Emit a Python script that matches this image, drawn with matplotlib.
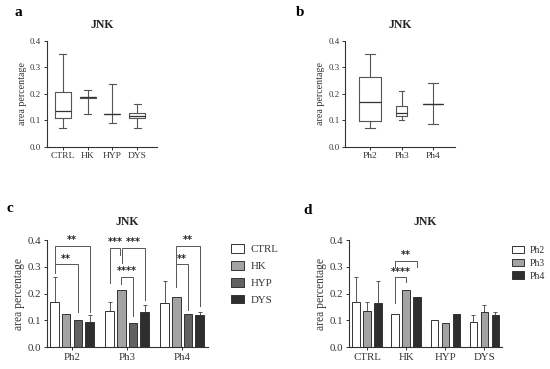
import matplotlib
matplotlib.use("Agg")
import matplotlib.pyplot as plt
import numpy as np

plt.rcParams['font.family'] = ['Liberation Serif', 'DejaVu Serif']

# ---------------- data ----------------
groups = ["CTRL", "HK", "HYP", "DYS"]
phases = ["Ph2", "Ph3", "Ph4"]

# panel a: box stats per group (whislo, q1, med, q3, whishi)
a_whislo = [0.070, 0.124, 0.088, 0.070]
a_q1     = [0.107, 0.185, 0.122, 0.107]
a_med    = [0.135, 0.187, 0.123, 0.117]
a_q3     = [0.208, 0.189, 0.124, 0.126]
a_whishi = [0.348, 0.214, 0.235, 0.160]

# panel b: box stats per phase
b_whislo = [0.070, 0.099, 0.087]
b_q1     = [0.098, 0.116, 0.161]
b_med    = [0.169, 0.126, 0.162]
b_q3     = [0.263, 0.152, 0.163]
b_whishi = [0.348, 0.209, 0.239]

# panels c/d: mean values, rows = groups, cols = phases
mean_ctrl = [0.168, 0.136, 0.164]
mean_hk   = [0.124, 0.214, 0.188]
mean_hyp  = [0.100, 0.090, 0.123]
mean_dys  = [0.094, 0.130, 0.120]
err_ctrl = [0.094, 0.034, 0.082]
err_hk   = [0.0, 0.0, 0.0]
err_hyp  = [0.0, 0.0, 0.0]
err_dys  = [0.025, 0.026, 0.012]

yticks = [0.0, 0.1, 0.2, 0.3, 0.4]

means = np.array([mean_ctrl, mean_hk, mean_hyp, mean_dys])
errs = np.array([err_ctrl, err_hk, err_hyp, err_dys])

group_colors = ["white", "#a3a3a3", "#626262", "#2e2e2e"]
phase_colors = ["white", "#a3a3a3", "#2e2e2e"]
edge = "#333333"
txt = "#333333"

W, H = 550, 369
fig = plt.figure(figsize=(W / 100, H / 100), dpi=100)


def ax_at(x0, x1, ytop, ybot):
    return fig.add_axes([x0 / W, 1 - ybot / H, (x1 - x0) / W, (ybot - ytop) / H])


def style(ax, fs_tick, fs_lab):
    for s in ["top", "right"]:
        ax.spines[s].set_visible(False)
    for s in ["left", "bottom"]:
        ax.spines[s].set_color(edge)
        ax.spines[s].set_linewidth(0.8)
    ax.set_ylim(0, 0.4)
    ax.set_yticks(yticks)
    ax.set_yticklabels([f"{v:.1f}" for v in yticks])
    ax.tick_params(axis="both", colors=edge, labelcolor=txt, labelsize=fs_tick,
                   length=2.5, width=0.7, pad=1.5)
    ax.set_ylabel("area percentage", fontsize=fs_lab, color=txt, labelpad=2)


def boxes(ax, lo, q1, med, q3, hi, labels, widths):
    stats = [dict(whislo=lo[i], q1=q1[i], med=med[i], q3=q3[i], whishi=hi[i],
                  label=labels[i], fliers=[]) for i in range(len(labels))]
    lp = dict(color="#555555", linewidth=0.8)
    ax.bxp(stats, positions=range(len(labels)), widths=widths, showfliers=False,
           boxprops=lp, medianprops=dict(color="#333333", linewidth=0.9),
           whiskerprops=lp, capprops=lp, capwidths=[w * 0.45 for w in widths])


# ---------------- panel a ----------------
axa = ax_at(46.7, 157, 40.7, 146.7)
boxes(axa, a_whislo, a_q1, a_med, a_q3, a_whishi, groups, [0.64] * 4)
axa.set_xlim(-0.65, 3.8)
style(axa, 6.3, 7.2)
axa.tick_params(axis="x", labelsize=6.8)
axa.set_title("JNK", fontsize=8.5, fontweight="bold", pad=9, color="#222222")
fig.text(18 / W, 1 - 13 / H, "a", fontsize=11, fontweight="bold", va="center", ha="center")

# ---------------- panel b ----------------
axb = ax_at(345, 455, 40.7, 146.7)
boxes(axb, b_whislo, b_q1, b_med, b_q3, b_whishi, phases, [0.72, 0.36, 0.64])
axb.set_xlim(-0.8, 2.7)
style(axb, 6.3, 7.2)
axb.tick_params(axis="x", labelsize=6.8)
axb.set_title("JNK", fontsize=8.5, fontweight="bold", pad=9, color="#222222")
fig.text(300 / W, 1 - 13 / H, "b", fontsize=11, fontweight="bold", va="center", ha="center")


def bracket(ax, x1, x2, h, b1, b2, label):
    ax.plot([x1, x1, x2, x2], [b1, h, h, b2], color="#555555", lw=0.7,
            solid_joinstyle="miter", clip_on=False)
    ax.text((x1 + x2) / 2, h + 0.002, label, ha="center", va="bottom",
            fontsize=7, fontweight="bold", color="#222222", family="DejaVu Sans")


# ---------------- panel c ----------------
axc = ax_at(46.7, 208, 240, 347.3)
step_c, bw_c = 0.212, 0.155
xc = np.arange(len(phases))
for gi, g in enumerate(groups):
    pos = xc + (gi - 1.5) * step_c
    axc.bar(pos, means[gi], width=bw_c, color=group_colors[gi], edgecolor=edge,
            linewidth=0.7, label=g, zorder=2)
    if errs[gi].any():
        axc.errorbar(pos, means[gi], yerr=[np.zeros(3), errs[gi]], fmt="none",
                     ecolor="#555555", elinewidth=0.7, capsize=1.6, capthick=0.7, zorder=1)
axc.set_xticks(xc)
axc.set_xticklabels(phases)
axc.set_xlim(-0.46, 2.47)
style(axc, 7.8, 8.3)
axc.set_title("JNK", fontsize=8.5, fontweight="bold", pad=11, color="#222222")
fig.text(10 / W, 1 - 209 / H, "c", fontsize=11, fontweight="bold", va="center", ha="center")


def bx(g, i):
    return g + (i - 1.5) * step_c


d = 0.02
bracket(axc, bx(0, 0), bx(0, 3), 0.378, 0.31, 0.13, "**")
bracket(axc, bx(0, 0), bx(0, 2), 0.31, 0.278, 0.13, "**")
bracket(axc, bx(1, 0), bx(1, 1) - d, 0.372, 0.24, 0.345, "***")
bracket(axc, bx(1, 1) + d, bx(1, 3), 0.372, 0.315, 0.175, "***")
bracket(axc, bx(1, 1), bx(1, 2), 0.263, 0.235, 0.115, "****")
bracket(axc, bx(2, 1), bx(2, 3), 0.378, 0.31, 0.155, "**")
bracket(axc, bx(2, 1), bx(2, 2), 0.31, 0.226, 0.14, "**")

legc = axc.legend(loc="upper left", bbox_to_anchor=(227 / W, 1 - 240 / H),
                  bbox_transform=fig.transFigure, frameon=False, fontsize=7.8,
                  handlelength=1.2, handleheight=0.85, labelspacing=0.62,
                  handletextpad=0.6, borderaxespad=0)
for t in legc.get_texts():
    t.set_color(txt)

# ---------------- panel d ----------------
axd = ax_at(349, 502, 240, 347.3)
step_d, bw_d = 0.28, 0.19
xd = np.arange(len(groups))
for pi, p in enumerate(phases):
    pos = xd + (pi - 1) * step_d
    axd.bar(pos, means[:, pi], width=bw_d, color=phase_colors[pi], edgecolor=edge,
            linewidth=0.7, label=p, zorder=2)
    if errs[:, pi].any():
        axd.errorbar(pos, means[:, pi], yerr=[np.zeros(4), errs[:, pi]], fmt="none",
                     ecolor="#555555", elinewidth=0.7, capsize=1.6, capthick=0.7, zorder=1)
axd.set_xticks(xd)
axd.set_xticklabels(groups)
axd.set_xlim(-0.46, 3.45)
style(axd, 7.8, 8.3)
axd.set_title("JNK", fontsize=8.5, fontweight="bold", pad=11, color="#222222")
fig.text(308 / W, 1 - 211 / H, "d", fontsize=11, fontweight="bold", va="center", ha="center")

bracket(axd, 1 - step_d, 1 + step_d, 0.323, 0.30, 0.30, "**")
bracket(axd, 1 - step_d, 1.0, 0.261, 0.164, 0.245, "****")

legd = axd.legend(loc="upper left", bbox_to_anchor=(508 / W, 1 - 242 / H),
                  bbox_transform=fig.transFigure, frameon=False, fontsize=7,
                  handlelength=1.2, handleheight=0.8, labelspacing=0.38,
                  handletextpad=0.6, borderaxespad=0)
for t in legd.get_texts():
    t.set_color(txt)

fig.savefig("out.png", dpi=100)
